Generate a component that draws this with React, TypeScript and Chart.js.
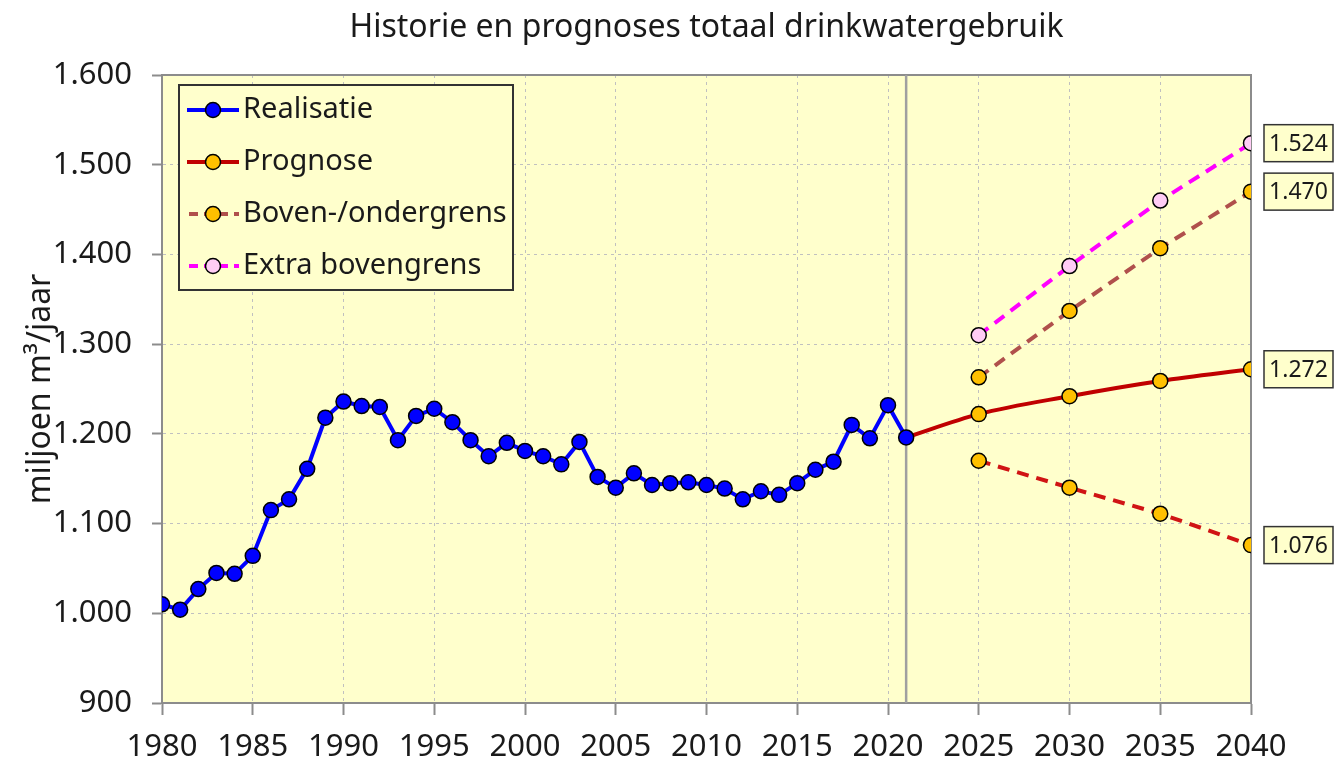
import React, { useEffect, useRef } from "react";
import { Chart, registerables } from "chart.js";

Chart.register(...registerables);

const TITLE = "Historie en prognoses totaal drinkwatergebruik";
const Y_TITLE = "miljoen m³/jaar";
const FONT = "'Noto Sans', 'Open Sans', sans-serif";

const histYears = [
  1980, 1981, 1982, 1983, 1984, 1985, 1986, 1987, 1988, 1989,
  1990, 1991, 1992, 1993, 1994, 1995, 1996, 1997, 1998, 1999,
  2000, 2001, 2002, 2003, 2004, 2005, 2006, 2007, 2008, 2009,
  2010, 2011, 2012, 2013, 2014, 2015, 2016, 2017, 2018, 2019,
  2020, 2021,
];
const histValues = [
  1010, 1004, 1027, 1045, 1044, 1064, 1115, 1127, 1161, 1218,
  1236, 1231, 1230, 1193, 1220, 1228, 1213, 1193, 1175, 1190,
  1181, 1175, 1166, 1191, 1152, 1140, 1156, 1143, 1145, 1146,
  1143, 1139, 1127, 1136, 1132, 1145, 1160, 1169, 1210, 1195,
  1232, 1196,
];
const progYears = [2021, 2025, 2030, 2035, 2040];
const progValues = [1196, 1222, 1242, 1259, 1272];
const rangeYears = [2025, 2030, 2035, 2040];
const upperValues = [1263, 1337, 1407, 1470];
const lowerValues = [1170, 1140, 1111, 1076];
const extraValues = [1310, 1387, 1460, 1524];

const legendLabels = ["Realisatie", "Prognose", "Boven-/ondergrens", "Extra bovengrens"];
const legendDatasetIndex = [0, 1, 2, 4];
const endLabelDatasets = [4, 2, 1, 3];
const splitYear = 2021;
const xMin = 1980;
const xMax = 2040;
const xStep = 5;
const yMin = 900;
const yMax = 1600;
const yStep = 100;

const BG = "#FFFFCC";
const TEXT = "#1a1a1a";

function fmtThousands(v: number): string {
  const n = Math.round(v);
  if (n < 1000) return String(n);
  const th = Math.floor(n / 1000);
  const rest = String(n % 1000).padStart(3, "0");
  return th + "." + rest;
}

function pts(xs: number[], ys: number[]) {
  return xs.map((x, i) => ({ x, y: ys[i] }));
}

const decorPlugin = {
  id: "decor",
  beforeDraw(chart: any) {
    const { ctx, chartArea: a, width, height } = chart;
    ctx.save();
    ctx.fillStyle = "#ffffff";
    ctx.fillRect(0, 0, width, height);
    ctx.fillStyle = BG;
    ctx.fillRect(a.left, a.top, a.right - a.left, a.bottom - a.top);
    ctx.restore();
  },
  beforeDatasetsDraw(chart: any) {
    const { ctx, chartArea: a, scales } = chart;
    ctx.save();
    ctx.strokeStyle = "#8c8c8c";
    ctx.lineWidth = 2;
    ctx.strokeRect(a.left, a.top, a.right - a.left, a.bottom - a.top);
    const sx = scales.x.getPixelForValue(splitYear);
    ctx.strokeStyle = "#a0a0a0";
    ctx.lineWidth = 2.5;
    ctx.beginPath();
    ctx.moveTo(sx, a.top);
    ctx.lineTo(sx, a.bottom);
    ctx.stroke();
    ctx.restore();
  },
  afterDatasetsDraw(chart: any) {
    const { ctx, chartArea: a } = chart;
    ctx.save();
    // title
    ctx.fillStyle = TEXT;
    ctx.font = `32px ${FONT}`;
    ctx.textAlign = "center";
    ctx.textBaseline = "alphabetic";
    ctx.fillText(TITLE, (a.left + a.right) / 2, 37);

    // end labels
    ctx.font = `23px ${FONT}`;
    endLabelDatasets.forEach((di) => {
      const meta = chart.getDatasetMeta(di);
      const ds = chart.data.datasets[di];
      const last = meta.data[meta.data.length - 1];
      const val = ds.data[ds.data.length - 1].y;
      const bw = 69;
      const bh = 37;
      const bx = last.x + 13;
      const by = last.y - bh / 2;
      ctx.fillStyle = BG;
      ctx.fillRect(bx, by, bw, bh);
      ctx.strokeStyle = "#333333";
      ctx.lineWidth = 1.5;
      ctx.strokeRect(bx, by, bw, bh);
      ctx.fillStyle = TEXT;
      ctx.textAlign = "center";
      ctx.textBaseline = "middle";
      ctx.fillText(fmtThousands(val), bx + bw / 2, last.y + 1);
    });

    // legend
    const lx = a.left + 17;
    const ly = a.top + 10;
    const lw = 334;
    const lh = 205;
    ctx.fillStyle = BG;
    ctx.fillRect(lx, ly, lw, lh);
    ctx.strokeStyle = "#333333";
    ctx.lineWidth = 2;
    ctx.strokeRect(lx, ly, lw, lh);
    ctx.font = `29px ${FONT}`;
    legendLabels.forEach((label, i) => {
      const ds: any = chart.data.datasets[legendDatasetIndex[i]];
      const y = a.top + 35 + i * 52;
      const x1 = a.left + 25;
      const x2 = a.left + 77;
      const mx = a.left + 51;
      ctx.save();
      ctx.strokeStyle = ds.borderColor;
      ctx.lineWidth = ds.borderWidth;
      ctx.setLineDash(ds.borderDash ? [9, 6] : []);
      ctx.lineDashOffset = ds.borderDash ? -2 : 0;
      ctx.beginPath();
      ctx.moveTo(x1, y);
      ctx.lineTo(x2, y);
      ctx.stroke();
      ctx.restore();
      const bg = Array.isArray(ds.pointBackgroundColor) ? ds.pointBackgroundColor[1] : ds.pointBackgroundColor;
      ctx.beginPath();
      ctx.arc(mx, y, 7.5, 0, Math.PI * 2);
      ctx.fillStyle = bg;
      ctx.fill();
      ctx.lineWidth = 1.5;
      ctx.strokeStyle = "#000000";
      ctx.stroke();
      ctx.fillStyle = TEXT;
      ctx.textAlign = "left";
      ctx.textBaseline = "middle";
      ctx.fillText(label, a.left + 81, y);
    });
    ctx.restore();
  },
};

export default function App() {
  const ref = useRef<HTMLCanvasElement | null>(null);

  useEffect(() => {
    document.body.style.margin = "0";
    const canvas = ref.current;
    if (!canvas) return;

    const pointCommon = {
      pointBorderColor: "#000000",
      pointBorderWidth: 1.5,
      pointRadius: 7.5,
      pointHoverRadius: 7.5,
    };

    const chart = new Chart(canvas, {
      type: "line",
      data: {
        datasets: [
          {
            label: legendLabels[0],
            data: pts(histYears, histValues),
            borderColor: "#0000FF",
            borderWidth: 4,
            pointBackgroundColor: "#0000FF",
            ...pointCommon,
          },
          {
            label: legendLabels[1],
            data: pts(progYears, progValues),
            borderColor: "#C00000",
            borderWidth: 4,
            cubicInterpolationMode: "monotone",
            pointBackgroundColor: "#FFC000",
            ...pointCommon,
            pointRadius: progYears.map((y) => (y === splitYear ? 0 : 7.5)),
          },
          {
            label: legendLabels[2],
            data: pts(rangeYears, upperValues),
            borderColor: "#B0504C",
            borderWidth: 4,
            borderDash: [12, 8],
            pointBackgroundColor: "#FFC000",
            ...pointCommon,
          },
          {
            label: "Ondergrens",
            data: pts(rangeYears, lowerValues),
            borderColor: "#D01414",
            borderWidth: 4,
            borderDash: [12, 8],
            pointBackgroundColor: "#FFC000",
            ...pointCommon,
          },
          {
            label: legendLabels[3],
            data: pts(rangeYears, extraValues),
            borderColor: "#FF00FF",
            borderWidth: 4,
            borderDash: [12, 8],
            pointBackgroundColor: "#FFCCF5",
            ...pointCommon,
          },
        ],
      } as any,
      options: {
        responsive: false,
        animation: false,
        layout: { padding: { top: 75, right: 84, bottom: 0, left: 0 } },
        font: { family: FONT },
        plugins: {
          legend: { display: false },
          title: { display: false },
          tooltip: { enabled: false },
        },
        scales: {
          x: {
            type: "linear",
            min: xMin,
            max: xMax,
            afterFit: (s: any) => {
              s.height = 57;
            },
            ticks: {
              stepSize: xStep,
              padding: 14,
              color: TEXT,
              font: { family: FONT, size: 31 },
              maxRotation: 0,
              callback: (v: any) => String(v),
            },
            grid: {
              color: "#c0c0c0",
              lineWidth: 1,
              tickLength: 12,
              tickColor: "#8c8c8c",
              tickWidth: 2,
            },
            border: { color: "#8c8c8c", width: 2, dash: [3, 4] },
          },
          y: {
            type: "linear",
            min: yMin,
            max: yMax,
            afterFit: (s: any) => {
              s.width = 162;
            },
            ticks: {
              stepSize: yStep,
              padding: 20,
              color: TEXT,
              font: { family: FONT, size: 31 },
              callback: (v: any) => fmtThousands(Number(v)),
            },
            grid: {
              color: "#c0c0c0",
              lineWidth: 1,
              tickLength: 10,
              tickColor: "#8c8c8c",
              tickWidth: 2,
            },
            border: { color: "#8c8c8c", width: 2, dash: [3, 4] },
            title: {
              display: true,
              text: Y_TITLE,
              color: TEXT,
              font: { family: FONT, size: 32 },
              padding: { top: 22, bottom: 0 },
            },
          },
        },
      } as any,
      plugins: [decorPlugin],
    });

    return () => chart.destroy();
  }, []);

  return (
    <div style={{ width: 1335, height: 760 }}>
      <canvas ref={ref} width={1335} height={760} style={{ display: "block" }} />
    </div>
  );
}
